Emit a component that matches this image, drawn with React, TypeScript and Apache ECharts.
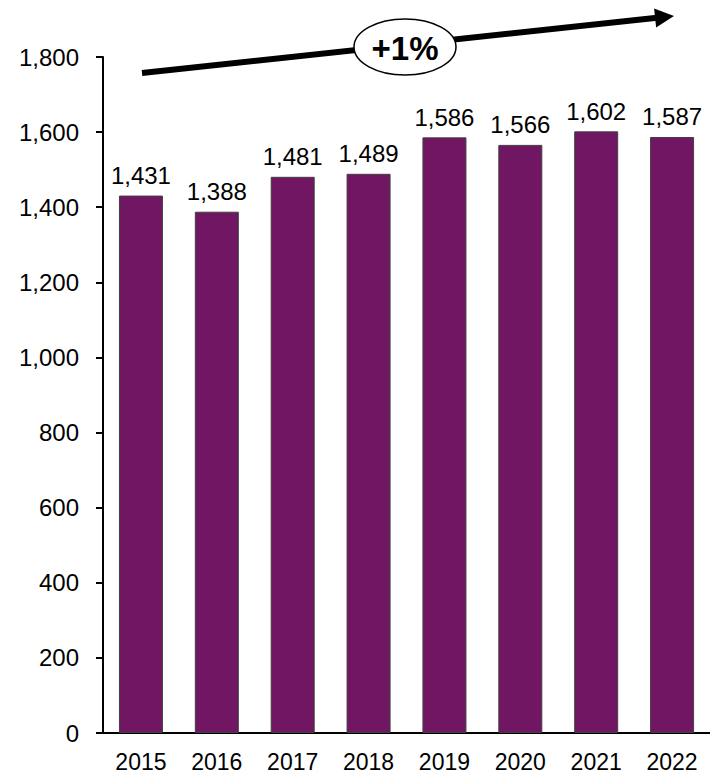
import React, { useEffect, useRef } from "react";
import * as echarts from "echarts";

const years = ["2015", "2016", "2017", "2018", "2019", "2020", "2021", "2022"];
const values = [1431, 1388, 1481, 1489, 1586, 1566, 1602, 1587];
const growthLabel = "+1%";

export default function App() {
  const ref = useRef<HTMLDivElement>(null);
  useEffect(() => {
    if (!ref.current) return;
    const chart = echarts.init(ref.current, null, { renderer: "svg" });
    const font = "'Liberation Sans', Arial, sans-serif";
    // arrow geometry
    const x1 = 142, y1 = 73, tx = 674, ty = 16;
    const dx = tx - x1, dy = ty - y1;
    const len = Math.sqrt(dx * dx + dy * dy);
    const ux = dx / len, uy = dy / len;
    const px = -uy, py = ux;
    const hl = 19, hw = 9.5;
    const bx = tx - ux * hl, by = ty - uy * hl;
    chart.setOption({
      animation: false,
      grid: { left: 103, top: 57, width: 609, height: 676, containLabel: false },
      xAxis: {
        type: "category",
        data: years,
        axisLine: { lineStyle: { color: "#000", width: 2 } },
        axisTick: { show: false },
        axisLabel: { color: "#000", fontSize: 23, fontFamily: font, margin: 17 },
      },
      yAxis: {
        type: "value",
        min: 0,
        max: 1800,
        interval: 200,
        splitLine: { show: false },
        axisLine: { show: true, lineStyle: { color: "#000", width: 2 } },
        axisTick: { show: true, length: 7, lineStyle: { color: "#000", width: 2 } },
        axisLabel: {
          color: "#000",
          fontSize: 24,
          fontFamily: font,
          margin: 24,
          formatter: (v: number) => v.toLocaleString("en-US"),
        },
      },
      series: [
        {
          type: "bar",
          data: values,
          barWidth: 44,
          itemStyle: { color: "#701662", borderColor: "#404040", borderWidth: 1 },
          label: {
            show: true,
            position: "top",
            distance: 8,
            color: "#000",
            fontSize: 24,
            fontFamily: font,
            formatter: (p: any) => Number(p.value).toLocaleString("en-US"),
          },
        },
      ],
      graphic: [
        {
          type: "line",
          shape: { x1, y1, x2: bx + ux * 2, y2: by + uy * 2 },
          style: { stroke: "#000", lineWidth: 6 },
          z: 10,
        },
        {
          type: "polygon",
          shape: {
            points: [
              [tx, ty],
              [bx + px * hw, by + py * hw],
              [bx - px * hw, by - py * hw],
            ],
          },
          style: { fill: "#000" },
          z: 10,
        },
        {
          type: "ellipse",
          shape: { cx: 405, cy: 47, rx: 51, ry: 28 },
          style: { fill: "#fff", stroke: "#000", lineWidth: 1.5 },
          z: 11,
        },
        {
          type: "text",
          x: 405,
          y: 48,
          style: {
            text: growthLabel,
            x: 0,
            y: 0,
            align: "center",
            verticalAlign: "middle",
            fontSize: 33,
            fontWeight: "bold",
            fontFamily: font,
            fill: "#000",
          },
          z: 12,
        },
      ],
    });
    return () => chart.dispose();
  }, []);
  return <div ref={ref} style={{ width: 710, height: 774, position: "absolute", left: 0, top: 0 }} />;
}
